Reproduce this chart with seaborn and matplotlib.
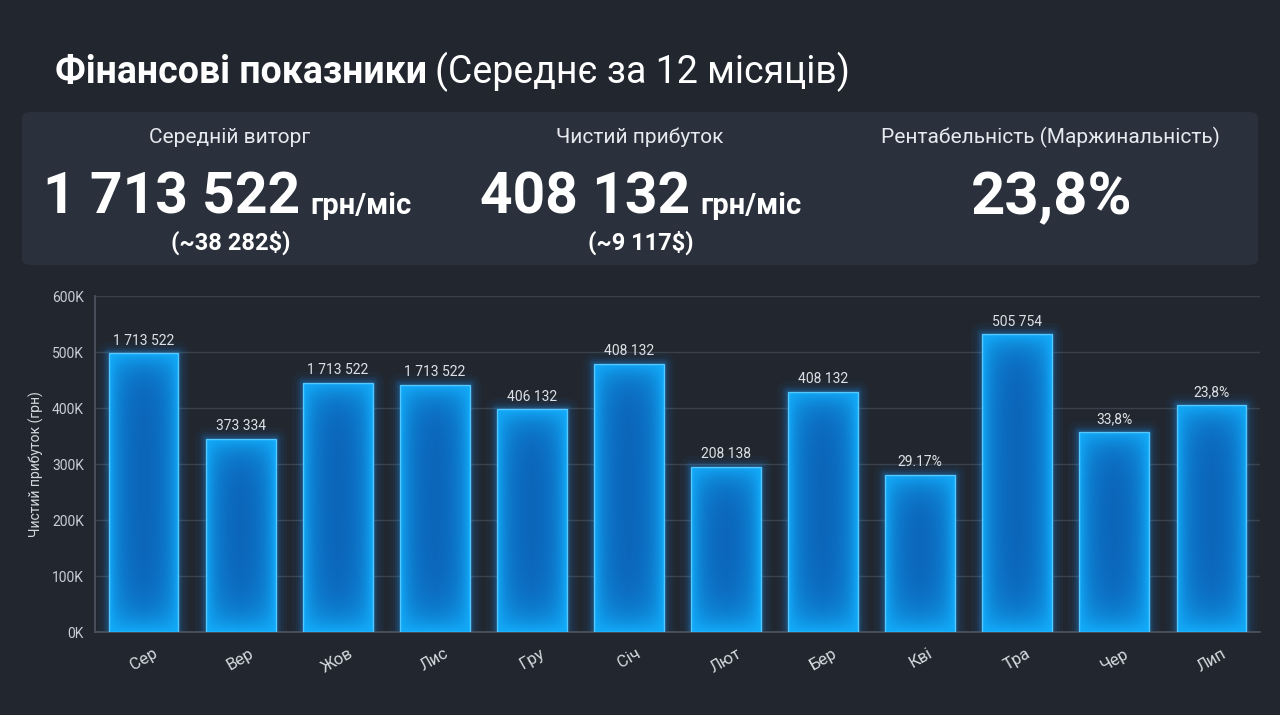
import numpy as np
import pandas as pd
import matplotlib
matplotlib.use('Agg')
import matplotlib.pyplot as plt
import seaborn as sns
from matplotlib.patches import FancyBboxPatch, Rectangle
from matplotlib.colors import to_rgb

# Data
months = ['Сер', 'Вер', 'Жов', 'Лис', 'Гру', 'Січ', 'Лют', 'Бер', 'Кві', 'Тра', 'Чер', 'Лип']
profit = [498000, 345000, 445000, 441000, 398000, 479000, 295000, 429000, 281000, 532000, 358000, 405000]
bar_labels = ['1 713 522', '373 334', '1 713 522', '1 713 522', '406 132', '408 132',
              '208 138', '408 132', '29.17%', '505 754', '33,8%', '23,8%']
y_ticks = [0, 100000, 200000, 300000, 400000, 500000, 600000]
y_tick_labels = ['0K', '100K', '200K', '300K', '400K', '500K', '600K']

kpi_titles = ['Середній виторг', 'Чистий прибуток', 'Рентабельність (Маржинальність)']
kpi_values = ['1 713 522', '408 132', '23,8%']
kpi_units = ['грн/міс', 'грн/міс', '']
kpi_usd = ['(~38 282$)', '(~9 117$)', '']

BG = '#22262f'
CARD = '#2b313c'
BRIGHT = '#12acfa'
DARK = '#0b62b6'

sns.set_theme(style='dark')
plt.rcParams['font.family'] = ['Roboto', 'DejaVu Sans']

W, H = 1280, 715
fig = plt.figure(figsize=(12.8, 7.15), dpi=100, facecolor=BG)


def px(x, y):
    return x / W, 1 - y / H


# title: bold part, then regular part right after it
t1 = fig.text(*px(55, 83), 'Фінансові показники', fontsize=27, fontweight='bold',
              color='white', va='baseline', ha='left')
fig.canvas.draw()
bb = t1.get_window_extent()
fig.text(bb.x1 / W + 8 / W, 1 - 83 / H, '(Середнє за 12 місяців)', fontsize=27,
         color='white', va='baseline', ha='left')

# KPI card
x0, y0 = px(22, 265)
x1, y1 = px(1258, 112)
card = FancyBboxPatch((x0, y0), x1 - x0, y1 - y0, boxstyle='round,pad=0,rounding_size=0.008',
                      transform=fig.transFigure, facecolor=CARD, edgecolor='none', zorder=0)
fig.patches.append(card)

title_x = [230, 640, 1050]
num_right = [300, 690, None]
for i in range(3):
    fig.text(*px(title_x[i], 143), kpi_titles[i], fontsize=15, color='#e6e9ee',
             ha='center', va='baseline')
    if kpi_units[i]:
        fig.text(*px(num_right[i], 214), kpi_values[i], fontsize=41, fontweight='bold',
                 color='white', ha='right', va='baseline')
        fig.text(*px(num_right[i] + 10, 214), kpi_units[i], fontsize=21, fontweight='bold',
                 color='white', ha='left', va='baseline')
        fig.text(*px(title_x[i] + 1, 250), kpi_usd[i], fontsize=17, fontweight='bold',
                 color='white', ha='center', va='baseline')
    else:
        fig.text(*px(1052, 214), kpi_values[i], fontsize=43, fontweight='bold',
                 color='white', ha='center', va='baseline')

# bar chart
ax = fig.add_axes([95 / W, 1 - 632 / H, 1165 / W, 336 / H])
ax.set_facecolor('none')
df = pd.DataFrame({'month': months, 'profit': profit})
sns.barplot(data=df, x='month', y='profit', color=BRIGHT, width=0.72, ax=ax,
            edgecolor='none', zorder=3)
ax.set_xlim(-0.5, 11.5)
ax.set_ylim(0, 600000)
ax.set_yticks(y_ticks)
ax.set_yticklabels(y_tick_labels, color='#c9ced6', fontsize=10)
ax.set_ylabel('Чистий прибуток (грн)', color='#d5d9df', fontsize=10, labelpad=6)
ax.set_xlabel('')
ax.grid(axis='y', color='#3b414c', linewidth=1, zorder=0)
ax.grid(axis='x', visible=False)
for side in ['top', 'right']:
    ax.spines[side].set_visible(False)
for side in ['left', 'bottom']:
    ax.spines[side].set_visible(True)
    ax.spines[side].set_color('#4e5561')
    ax.spines[side].set_linewidth(1.2)
ax.tick_params(axis='x', colors='#d5d9df', labelsize=12, pad=10, length=0)
ax.tick_params(axis='y', length=0, pad=8)
for lab in ax.get_xticklabels():
    lab.set_rotation(30)
    lab.set_ha('center')

# glow + soft inner gradient for each bar
fig.canvas.draw()
bright = np.array(to_rgb(BRIGHT))
dark = np.array(to_rgb(DARK))
for bar in ax.patches:
    bx, by, bw, bh = bar.get_x(), bar.get_y(), bar.get_width(), bar.get_height()
    # outer glow
    for lw, a in [(16, 0.04), (11, 0.06), (7, 0.09), (4, 0.14)]:
        ax.add_patch(Rectangle((bx, by), bw, bh, facecolor='none', edgecolor='#1e9bff',
                               linewidth=lw, alpha=a, zorder=2, joinstyle='round'))
    p0 = ax.transData.transform((bx, by))
    p1 = ax.transData.transform((bx + bw, by + bh))
    wpx = max(int(abs(p1[0] - p0[0])), 2)
    hpx = max(int(abs(p1[1] - p0[1])), 2)
    xx = np.arange(wpx) + 0.5
    yy = np.arange(hpx) + 0.5
    dx = np.minimum(xx, wpx - xx)[None, :]
    dtop = yy[:, None]
    dbot = (hpx - yy)[:, None]
    t = (1 - np.exp(-dx / 11.0)) * (1 - np.exp(-dtop / 16.0)) * (1 - np.exp(-dbot / 20.0))
    img = bright[None, None, :] * (1 - t[..., None]) + dark[None, None, :] * t[..., None]
    im = ax.imshow(img, extent=(bx, bx + bw, by, by + bh), origin='upper',
                   aspect='auto', zorder=4, interpolation='bilinear')
    im.set_clip_path(bar)
    ax.add_patch(Rectangle((bx, by), bw, bh, facecolor='none', edgecolor='#55c8ff',
                           linewidth=1.0, zorder=5))
ax.set_xlim(-0.5, 11.5)
ax.set_ylim(0, 600000)

ax.bar_label(ax.containers[0], labels=bar_labels, padding=4, color='#dde1e7', fontsize=10)

fig.savefig('out.png', dpi=100, facecolor=BG)
